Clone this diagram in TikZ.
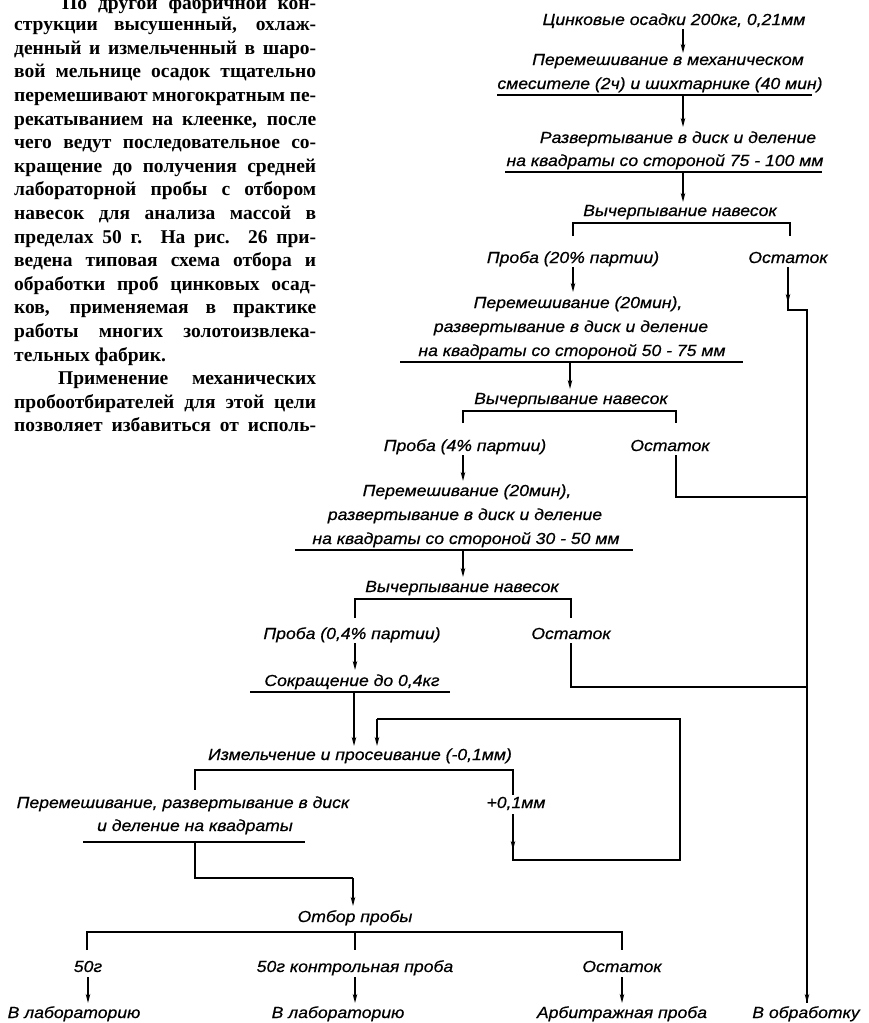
\documentclass[tikz,border=0pt]{standalone}
\usepackage{fontspec}
\setmainfont{Liberation Serif}
\newfontfamily\labfam{Liberation Sans}[FakeStretch=1.1,FakeBold=0.6]
\usetikzlibrary{arrows.meta}
\newcommand\bodyfont{\bfseries\fontsize{19.5bp}{23.6bp}\selectfont}
\newcommand\labfont{\labfam\itshape\fontsize{16bp}{19bp}\selectfont}
\newcommand\jline[2]{\makebox[#1bp][s]{#2}}
\begin{document}
\begin{tikzpicture}[x=1bp,y=-1bp,
  txt/.style={font=\bodyfont, inner sep=0pt, anchor=base west},
  lbl/.style={font=\labfont, inner sep=0pt, anchor=base},
  conn/.style={line width=2.1bp},
  arr/.style={conn, -{Stealth[length=9bp,width=4.5bp]}},
  ul/.style={line width=2.6bp}]
\useasboundingbox (0,0) rectangle (869,1023);

% ---- text column ----
\node[txt] (t1)  at (62,9)     {\jline{254}{По другой фабричной кон-}};
\node[txt] (t2)  at (14,30.6)  {\jline{302}{струкции высушенный, охлаж-}};
\node[txt] (t3)  at (14,54.2)  {\jline{302}{денный и измельченный в шаро-}};
\node[txt] (t4)  at (14,77.8)  {\jline{302}{вой мельнице осадок тщательно}};
\node[txt] (t5)  at (14,101.4) {\jline{302}{перемешивают многократным пе-}};
\node[txt] (t6)  at (14,125)   {\jline{302}{рекатыванием на клеенке, после}};
\node[txt] (t7)  at (14,148.6) {\jline{302}{чего ведут последовательное со-}};
\node[txt] (t8)  at (14,172.2) {\jline{302}{кращение до получения средней}};
\node[txt] (t9)  at (14,195.8) {\jline{302}{лабораторной пробы с отбором}};
\node[txt] (t10) at (14,219.4) {\jline{302}{навесок для анализа массой в}};
\node[txt] (t11) at (14,243)   {\jline{302}{пределах 50 г. На рис. 26 при-}};
\node[txt] (t12) at (14,266.6) {\jline{302}{ведена типовая схема отбора и}};
\node[txt] (t13) at (14,290.2) {\jline{302}{обработки проб цинковых осад-}};
\node[txt] (t14) at (14,313.8) {\jline{302}{ков, применяемая в практике}};
\node[txt] (t15) at (14,337.4) {\jline{302}{работы многих золотоизвлека-}};
\node[txt] (t16) at (14,361)   {тельных фабрик.};
\node[txt] (t17) at (58,384.6) {\jline{258}{Применение механических}};
\node[txt] (t18) at (14,408.2) {\jline{302}{пробоотбирателей для этой цели}};
\node[txt] (t19) at (14,431.8) {\jline{302}{позволяет избавиться от исполь-}};

% ---- flow sheet labels ----
\node[lbl] (zinc) at (674,25)  {Цинковые осадки 200кг, 0,21мм};
\node[lbl] (mixa) at (668,65)  {Перемешивание в механическом};
\node[lbl] (mixb) at (660,89)  {смесителе (2ч) и шихтарнике (40 мин)};
\node[lbl] (spra) at (678,143) {Развертывание в диск и деление};
\node[lbl] (sprb) at (665,166) {на квадраты со стороной 75 - 100 мм};
\node[lbl] (ex1)  at (680,216) {Вычерпывание навесок};
\node[lbl] (pr1)  at (573,263) {Проба (20\% партии)};
\node[lbl] (os1)  at (788,263) {Остаток};
\node[lbl] (m2a)  at (578,308) {Перемешивание (20мин),};
\node[lbl] (m2b)  at (571,332) {развертывание в диск и деление};
\node[lbl] (m2c)  at (572,356) {на квадраты со стороной 50 - 75 мм};
\node[lbl] (ex2)  at (571,404) {Вычерпывание навесок};
\node[lbl] (pr2)  at (465,451) {Проба (4\% партии)};
\node[lbl] (os2)  at (670,451) {Остаток};
\node[lbl] (m3a)  at (467,496) {Перемешивание (20мин),};
\node[lbl] (m3b)  at (465,520) {развертывание в диск и деление};
\node[lbl] (m3c)  at (466,544) {на квадраты со стороной 30 - 50 мм};
\node[lbl] (ex3)  at (462,592) {Вычерпывание навесок};
\node[lbl] (pr3)  at (352,639) {Проба (0,4\% партии)};
\node[lbl] (os3)  at (571,639) {Остаток};
\node[lbl] (red)  at (352,686) {Сокращение до 0,4кг};
\node[lbl] (grd)  at (360,760) {Измельчение и просеивание (-0,1мм)};
\node[lbl] (fma)  at (183,808) {Перемешивание, развертывание в диск};
\node[lbl] (fmb)  at (195,831) {и деление на квадраты};
\node[lbl] (ovr)  at (516,808) {+0,1мм};
\node[lbl] (sel)  at (355,922) {Отбор пробы};
\node[lbl] (g50)  at (88,972)  {50г};
\node[lbl] (ctl)  at (355,972) {50г контрольная проба};
\node[lbl] (os4)  at (622,972) {Остаток};
\node[lbl] (lab1) at (74,1018) {В лабораторию};
\node[lbl] (lab2) at (338,1018) {В лабораторию};
\node[lbl] (arb)  at (622,1018) {Арбитражная проба};
\node[lbl] (proc) at (806,1018) {В обработку};

% ---- underlines ----
\draw[ul] (497,95) -- (812,95);
\draw[ul] (505,172) -- (822,172);
\draw[ul] (400,362) -- (743,362);
\draw[ul] (295,550) -- (633,550);
\draw[ul] (250,692) -- (450,692);
\draw[ul] (83,842) -- (305,842);

% ---- straight feeds ----
\coordinate (a1) at (683,29);  \coordinate (b1) at (683,53);
\coordinate (a2) at (683,96);  \coordinate (b2) at (683,127);
\coordinate (a3) at (683,173); \coordinate (b3) at (683,202);
\coordinate (a4) at (573,267); \coordinate (b4) at (573,292);
\coordinate (a5) at (570,363); \coordinate (b5) at (570,389);
\coordinate (a6) at (463,455); \coordinate (b6) at (463,481);
\coordinate (a7) at (463,551); \coordinate (b7) at (463,577);
\coordinate (a8) at (355,643); \coordinate (b8) at (355,670);
\coordinate (a9) at (354,693); \coordinate (b9) at (354,746);
\draw[arr] (a1) -- (b1);
\draw[arr] (a2) -- (b2);
\draw[arr] (a3) -- (b3);
\draw[arr] (a4) -- (b4);
\draw[arr] (a5) -- (b5);
\draw[arr] (a6) -- (b6);
\draw[arr] (a7) -- (b7);
\draw[arr] (a8) -- (b8);
\draw[arr] (a9) -- (b9);

% ---- splits under each scooping step ----
\draw[ul] (573,236) |- (790,223) -- (790,236);
\draw[ul] (463,423) |- (676,411) -- (676,423);
\draw[ul] (355,618) |- (571,599) -- (571,618);

% ---- residues to the collector ----
\coordinate (r1a) at (788,267); \coordinate (r1b) at (788,310);
\coordinate (col1) at (807,310); \coordinate (col2) at (807,1003);
\draw[arr] (r1a) -- (788,303);
\draw[conn] (788,300) -- (r1b) -- (col1) -- (col2);
\draw[arr] (807,960) -- (col2);
\coordinate (r2a) at (676,455); \coordinate (r2b) at (676,497);
\draw[conn] (r2a) -- (r2b) -- (807,497);
\coordinate (r3a) at (571,643); \coordinate (r3b) at (571,687);
\draw[conn] (r3a) -- (r3b) -- (807,687);

% ---- grinding and screening loop ----
\draw[ul] (195,790) |- (513,770) -- (513,795);
\coordinate (l1) at (513,814); \coordinate (l2) at (513,860);
\coordinate (l3) at (680,860); \coordinate (l4) at (680,719);
\coordinate (l5) at (377,719); \coordinate (l6) at (377,746);
\draw[arr] (l1) -- (513,850);
\draw[conn] (513,846) -- (l2) -- (l3) -- (l4) -- (l5);
\draw[arr] (l5) -- (l6);

% ---- to sampling ----
\coordinate (s1) at (195,843); \coordinate (s2) at (195,878);
\coordinate (s3) at (353,878); \coordinate (s4) at (353,906);
\draw[conn] (s1) -- (s2) -- (s3);
\draw[arr] (s3) -- (s4);
\draw[ul] (87,950) |- (622,932) -- (622,950);
\draw[ul] (355,932) -- (355,950);

% ---- final destinations ----
\coordinate (d1a) at (88,977);  \coordinate (d1b) at (88,1003);
\coordinate (d2a) at (355,977); \coordinate (d2b) at (355,1003);
\coordinate (d3a) at (622,977); \coordinate (d3b) at (622,1003);
\draw[arr] (d1a) -- (d1b);
\draw[arr] (d2a) -- (d2b);
\draw[arr] (d3a) -- (d3b);
\end{tikzpicture}
\end{document}
